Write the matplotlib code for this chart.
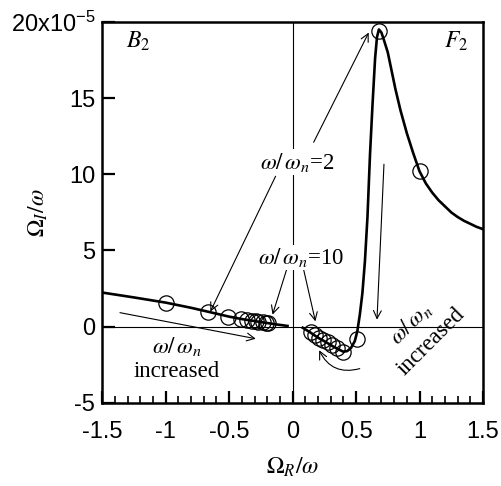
import matplotlib
matplotlib.use("Agg")
import matplotlib.pyplot as plt
from matplotlib.ticker import FixedLocator, MultipleLocator
from matplotlib.patches import FancyArrowPatch

plt.rcParams["font.family"] = ["Liberation Sans", "DejaVu Sans"]
plt.rcParams["mathtext.fontset"] = "stix"
plt.rcParams["axes.unicode_minus"] = False

# curve values, Omega_I/omega in units of 1e-5
left_x = [-1.5, -1.25, -1.0, -0.8, -0.67, -0.5, -0.4, -0.3, -0.2, -0.12, -0.04]
left_y = [2.24, 1.92, 1.58, 1.24, 0.99, 0.66, 0.50, 0.37, 0.24, 0.14, 0.05]

right_x = [0.08, 0.14, 0.2, 0.26, 0.32, 0.37, 0.40, 0.43, 0.46, 0.49, 0.51,
           0.53, 0.55, 0.57, 0.59, 0.61, 0.63, 0.65, 0.665, 0.68,
           0.70, 0.72, 0.75, 0.78, 0.81, 0.85, 0.90, 0.95, 1.0, 1.05, 1.10,
           1.15, 1.20, 1.25, 1.30, 1.35, 1.40, 1.45, 1.5]
right_y = [-0.07, -0.38, -0.72, -1.0, -1.3, -1.52, -1.64, -1.6, -1.4, -0.95,
           -0.3, 0.8, 2.2, 4.3, 7.2, 11.3, 14.6, 17.6, 19.0, 19.5,
           19.3, 18.8, 18.0, 16.8, 15.6, 14.2, 12.7, 11.4, 10.2, 9.4, 8.8,
           8.3, 7.9, 7.5, 7.2, 6.95, 6.75, 6.55, 6.4]

circ_left_x = [-1.0, -0.67, -0.506, -0.41, -0.356, -0.316, -0.29, -0.27,
               -0.237, -0.213, -0.19]
circ_left_y = [1.58, 0.99, 0.66, 0.53, 0.46, 0.39, 0.36, 0.33, 0.30, 0.27, 0.24]

circ_right_x = [0.142, 0.18, 0.21, 0.24, 0.28, 0.31, 0.35, 0.40, 0.51, 0.677, 1.0]
circ_right_y = [-0.38, -0.56, -0.72, -0.87, -1.03, -1.18, -1.37, -1.64, -0.79,
                19.4, 10.2]

x_ticks = [-1.5, -1.0, -0.5, 0.0, 0.5, 1.0, 1.5]
x_tick_labels = ["-1.5", "-1", "-0.5", "0", "0.5", "1", "1.5"]
y_ticks = [-5, 0, 5, 10, 15, 20]
y_tick_labels = ["-5", "0", "5", "10", "15", r"$\mathregular{20x10^{-5}}$"]

SERIF = ["Liberation Serif", "DejaVu Serif"]
TXT = 16.5


def arrow(ax, start, end):
    ax.annotate(
        "", xy=end, xytext=start,
        arrowprops=dict(arrowstyle="->", lw=0.8, color="black",
                        mutation_scale=14, shrinkA=0, shrinkB=0),
        zorder=4,
    )


fig = plt.figure(figsize=(5.01, 4.86), dpi=100)
ax = fig.add_axes([0.204, 0.171, 0.76, 0.784])

ax.axhline(0, color="black", lw=0.8, zorder=1)
ax.axvline(0, color="black", lw=0.8, zorder=1)

ax.plot(left_x, left_y, color="black", lw=1.9, zorder=2)
ax.plot(right_x, right_y, color="black", lw=1.9, zorder=2)
ax.plot(circ_left_x, circ_left_y, "o", ms=11, mfc="none", mec="black",
        mew=0.9, zorder=3)
ax.plot(circ_right_x, circ_right_y, "o", ms=11, mfc="none", mec="black",
        mew=0.9, zorder=3)

# labels with arrows
ax.text(0.04, 10.8, r"$\omega/\,\omega_n$=2", fontsize=TXT, family=SERIF,
        ha="center", va="center", zorder=5,
        bbox=dict(fc="white", ec="none", pad=1))
arrow(ax, (0.166, 12.1), (0.60, 19.3))
arrow(ax, (-0.134, 9.87), (-0.648, 0.99))

ax.text(0.07, 4.54, r"$\omega/\,\omega_n$=10", fontsize=TXT, family=SERIF,
        ha="center", va="center", zorder=5,
        bbox=dict(fc="white", ec="none", pad=1))
arrow(ax, (-0.047, 3.75), (-0.158, 0.79))
arrow(ax, (0.087, 3.75), (0.18, 0.35))

arrow(ax, (-1.36, 0.92), (-0.29, -0.79))
ax.text(-0.91, -1.3, r"$\omega/\,\omega_n$", fontsize=TXT, family=SERIF,
        ha="center", va="center")
ax.text(-0.91, -2.96, "increased", fontsize=TXT, family=SERIF,
        ha="center", va="center")

arrow(ax, (0.72, 10.66), (0.665, 0.46))
ax.text(0.93, 0.2, r"$\omega/\,\omega_n$", fontsize=TXT, family=SERIF,
        ha="center", va="center", rotation=45)
ax.text(1.09, -1.0, "increased", fontsize=TXT, family=SERIF,
        ha="center", va="center", rotation=45)

ax.add_patch(FancyArrowPatch((0.55, -2.7), (0.2, -1.38),
                             connectionstyle="arc3,rad=-0.45",
                             arrowstyle="->", mutation_scale=14, lw=0.8,
                             color="black"))

ax.text(-1.22, 18.7, r"$B_2$", fontsize=17, ha="center", va="center")
ax.text(1.29, 18.7, r"$F_2$", fontsize=17, ha="center", va="center")

ax.set_xlim(-1.5, 1.5)
ax.set_ylim(-5, 20)
ax.xaxis.set_major_locator(FixedLocator(x_ticks))
ax.set_xticklabels(x_tick_labels)
ax.xaxis.set_minor_locator(MultipleLocator(0.1))
ax.yaxis.set_major_locator(FixedLocator(y_ticks))
ax.set_yticklabels(y_tick_labels)

ax.tick_params(axis="both", which="major", direction="in", length=9,
               width=1.6, labelsize=17, pad=5)
ax.tick_params(axis="x", which="major", pad=13)
ax.tick_params(axis="x", which="minor", direction="in", length=5, width=1.2)
for spine in ax.spines.values():
    spine.set_linewidth(1.8)

ax.set_xlabel(r"$\Omega_R/\omega$", fontsize=17, va="center")
ax.xaxis.set_label_coords(0.5, -0.168)
ax.set_ylabel(r"$\Omega_I/\omega$", fontsize=17, va="center")
ax.yaxis.set_label_coords(-0.168, 0.5)

fig.savefig("out.png", dpi=100)
